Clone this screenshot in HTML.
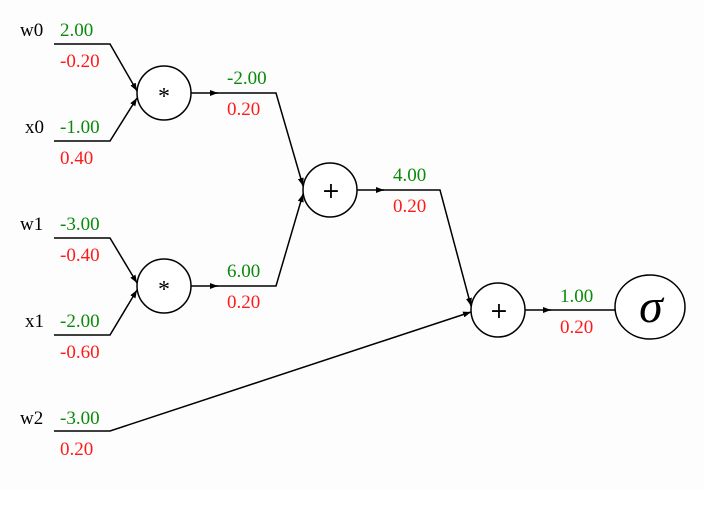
<!DOCTYPE html>
<html><head><meta charset="utf-8"><style>
html,body{margin:0;padding:0;background:#fff;}
svg{display:block;}
text{font-family:"Liberation Serif",serif;font-size:19px;}
.g{fill:#0a8a0a}.r{fill:#ff1a1a}.k{fill:#000}
line,polyline{stroke:#000;stroke-width:1.5;fill:none}
circle,ellipse{stroke:#000;stroke-width:1.5;fill:#fff}
</style></head><body>
<svg width="704" height="507" viewBox="0 0 704 507" xmlns="http://www.w3.org/2000/svg">
<defs><marker id="a" markerWidth="8" markerHeight="6" refX="8" refY="3" orient="auto" markerUnits="userSpaceOnUse"><path d="M0,0L8,3L0,6z" fill="#000"/></marker></defs>
<rect x="0" y="0" width="704" height="490" fill="#fdfdfd"/>
<polyline points="54,44 110,44 137,91" marker-end="url(#a)"/>
<polyline points="54,141 110,141 137,98" marker-end="url(#a)"/>
<polyline points="54,238 110,238 137,283" marker-end="url(#a)"/>
<polyline points="54,335 110,335 137,290" marker-end="url(#a)"/>
<polyline points="54,431 110,431 471,312" marker-end="url(#a)"/>
<line x1="191" y1="93" x2="218" y2="93" marker-end="url(#a)"/>
<polyline points="215,93 276,93 303,186" marker-end="url(#a)"/>
<line x1="191" y1="286" x2="218" y2="286" marker-end="url(#a)"/>
<polyline points="215,286 276,286 303,194" marker-end="url(#a)"/>
<line x1="357" y1="190" x2="384" y2="190" marker-end="url(#a)"/>
<polyline points="381,190 440,190 471,306" marker-end="url(#a)"/>
<line x1="525" y1="310" x2="551" y2="310" marker-end="url(#a)"/>
<line x1="548" y1="310" x2="616" y2="310"/>
<circle cx="164" cy="93" r="27"/>
<circle cx="164" cy="286" r="27"/>
<circle cx="330" cy="190" r="27"/>
<circle cx="498" cy="310" r="27"/>
<ellipse cx="650" cy="307" rx="35" ry="32"/>
<text x="164" y="104" text-anchor="middle" class="k" style="font-size:24px">*</text>
<text x="164" y="297" text-anchor="middle" class="k" style="font-size:24px">*</text>
<text x="331" y="198" text-anchor="middle" class="k" style="font-family:'DejaVu Sans',sans-serif;font-size:22px">+</text>
<text x="499" y="318" text-anchor="middle" class="k" style="font-family:'DejaVu Sans',sans-serif;font-size:22px">+</text>
<text x="651" y="322" text-anchor="middle" class="k" style="font-size:48px;font-style:italic">σ</text>
<text x="20" y="36" class="k">w0</text><text x="60" y="36" class="g">2.00</text><text x="60" y="67" class="r">-0.20</text>
<text x="25" y="133" class="k">x0</text><text x="60" y="133" class="g">-1.00</text><text x="60" y="164" class="r">0.40</text>
<text x="20" y="230" class="k">w1</text><text x="60" y="230" class="g">-3.00</text><text x="60" y="261" class="r">-0.40</text>
<text x="25" y="327" class="k">x1</text><text x="60" y="327" class="g">-2.00</text><text x="60" y="358" class="r">-0.60</text>
<text x="20" y="424" class="k">w2</text><text x="60" y="424" class="g">-3.00</text><text x="60" y="455" class="r">0.20</text>
<text x="227" y="84" class="g">-2.00</text><text x="227" y="115" class="r">0.20</text>
<text x="227" y="277" class="g">6.00</text><text x="227" y="308" class="r">0.20</text>
<text x="393" y="181" class="g">4.00</text><text x="393" y="212" class="r">0.20</text>
<text x="560" y="302" class="g">1.00</text><text x="560" y="333" class="r">0.20</text>
</svg>
</body></html>
